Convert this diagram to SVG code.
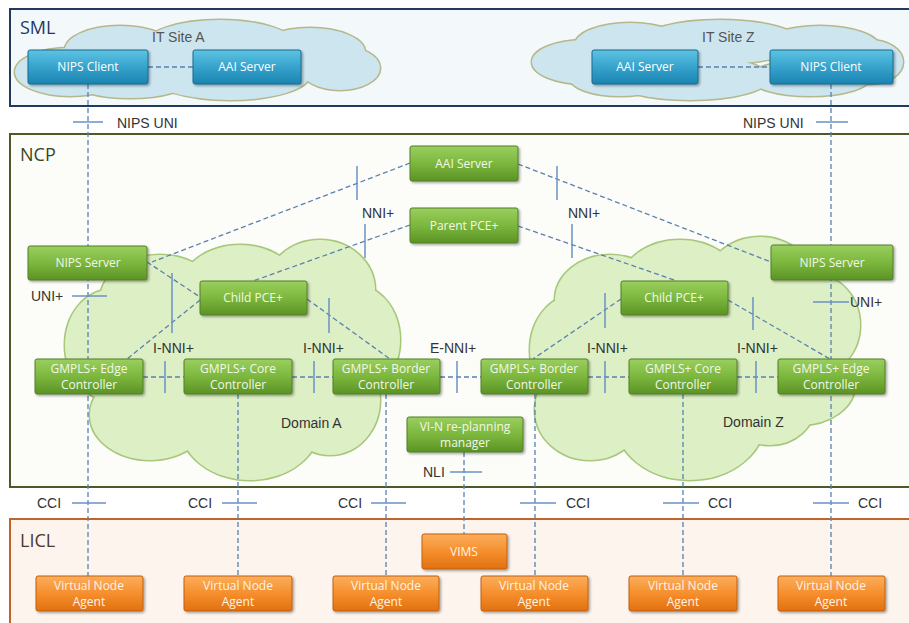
<svg xmlns="http://www.w3.org/2000/svg" xmlns:xlink="http://www.w3.org/1999/xlink" width="909" height="623" viewBox="0 0 909 623">
  <style>
    .layer-label { font-family: "Open Sans", "Liberation Sans", sans-serif; font-size: 18px; }
    .lbl { font-family: "Liberation Sans", Arial, sans-serif; font-size: 14px; fill: #333333; }
    .cloud-lbl { font-family: "Liberation Sans", Arial, sans-serif; font-size: 14px; fill: #555555; }
    .node text { font-family: "Open Sans", "Liberation Sans", sans-serif; font-size: 12px; text-anchor: middle; }
    .node.green rect { fill: url(#gGreen); stroke: #557f2a; stroke-width: 1; filter: url(#shadow); }
    .node.green text { fill: #f2f8e8; }
    .node.blue rect { fill: url(#gBlue); stroke: #1b6a8e; stroke-width: 1; filter: url(#shadow); }
    .node.blue text { fill: #ffffff; }
    .node.orange rect { fill: url(#gOrange); stroke: #c1600f; stroke-width: 1; filter: url(#shadow); }
    .node.orange text { fill: #fff3e6; }
    .dash { stroke: #5b80ad; stroke-width: 1.3; stroke-dasharray: 5 3; fill: none; }
    .tick { stroke: #6a92c6; stroke-width: 1.5; fill: none; }
  </style>
  <defs>
    <linearGradient id="gGreen" x1="0" y1="0" x2="0" y2="1">
      <stop offset="0" stop-color="#9acf5e"/>
      <stop offset="0.5" stop-color="#7cb73e"/>
      <stop offset="1" stop-color="#5b9324"/>
    </linearGradient>
    <linearGradient id="gBlue" x1="0" y1="0" x2="0" y2="1">
      <stop offset="0" stop-color="#5ec3e2"/>
      <stop offset="0.5" stop-color="#36a3cd"/>
      <stop offset="1" stop-color="#1b84b0"/>
    </linearGradient>
    <linearGradient id="gOrange" x1="0" y1="0" x2="0" y2="1">
      <stop offset="0" stop-color="#fbae5c"/>
      <stop offset="0.5" stop-color="#f58f2e"/>
      <stop offset="1" stop-color="#e2700e"/>
    </linearGradient>
    <filter id="shadow" x="-10%" y="-20%" width="125%" height="150%">
      <feDropShadow dx="1.5" dy="1.5" stdDeviation="1.2" flood-color="#000" flood-opacity="0.35"/>
    </filter>

    <!-- cloud bodies built from overlapping ellipses -->
    <g id="cloudSiteA">
      <ellipse cx="70" cy="72" rx="55" ry="24"/>
      <ellipse cx="120" cy="50" rx="55" ry="24"/>
      <ellipse cx="220" cy="45" rx="75" ry="25"/>
      <ellipse cx="310" cy="52" rx="55" ry="24"/>
      <ellipse cx="340" cy="68" rx="40" ry="22"/>
      <ellipse cx="230" cy="75" rx="80" ry="25"/>
      <ellipse cx="130" cy="80" rx="60" ry="18"/>
    </g>
    <g id="cloudSiteZ">
      <ellipse cx="585" cy="62" rx="53" ry="22"/>
      <ellipse cx="630" cy="45" rx="55" ry="22"/>
      <ellipse cx="720" cy="42" rx="80" ry="22"/>
      <ellipse cx="820" cy="48" rx="60" ry="22"/>
      <ellipse cx="870" cy="62" rx="33" ry="22"/>
      <ellipse cx="690" cy="78" rx="80" ry="22"/>
      <ellipse cx="810" cy="78" rx="60" ry="18"/>
      <ellipse cx="620" cy="78" rx="50" ry="18"/>
    </g>
    <g id="cloudDomA">
      <ellipse cx="110" cy="345" rx="45" ry="55"/>
      <ellipse cx="160" cy="300" rx="60" ry="45"/>
      <ellipse cx="240" cy="290" rx="60" ry="45"/>
      <ellipse cx="320" cy="290" rx="55" ry="50"/>
      <ellipse cx="355" cy="340" rx="45" ry="55"/>
      <ellipse cx="150" cy="415" rx="60" ry="45"/>
      <ellipse cx="250" cy="425" rx="70" ry="55"/>
      <ellipse cx="330" cy="400" rx="50" ry="55"/>
      <ellipse cx="230" cy="360" rx="130" ry="70"/>
    </g>
    <g id="cloudDomZ">
      <ellipse cx="575" cy="350" rx="45" ry="55"/>
      <ellipse cx="610" cy="300" rx="55" ry="45"/>
      <ellipse cx="680" cy="285" rx="60" ry="45"/>
      <ellipse cx="760" cy="285" rx="55" ry="48"/>
      <ellipse cx="815" cy="325" rx="45" ry="50"/>
      <ellipse cx="800" cy="385" rx="55" ry="40"/>
      <ellipse cx="590" cy="410" rx="55" ry="50"/>
      <ellipse cx="690" cy="420" rx="75" ry="60"/>
      <ellipse cx="770" cy="405" rx="45" ry="40"/>
      <ellipse cx="690" cy="360" rx="130" ry="70"/>
    </g>
  </defs>

  <rect width="909" height="623" fill="#ffffff"/>

  <!-- layers -->
  <g id="layer-sml">
    <rect x="10" y="9" width="904" height="97" fill="#f3f8fb" stroke="#223a5e" stroke-width="2"/>
    <text class="layer-label" x="20" y="34" fill="#1f3864">SML</text>
  </g>
  <g id="layer-ncp">
    <rect x="10" y="134" width="904" height="353" fill="#fcfdf9" stroke="#4c5a2a" stroke-width="2"/>
    <text class="layer-label" x="20" y="161" fill="#3b4424">NCP</text>
  </g>
  <g id="layer-licl">
    <rect x="10" y="519" width="904" height="120" fill="#fdf4ee" stroke="#c0642a" stroke-width="2"/>
    <text class="layer-label" x="20" y="547" fill="#4a3a30">LICL</text>
  </g>

  <!-- clouds -->
  <g id="cloud-it-site-a">
    <use xlink:href="#cloudSiteA" fill="#b4b88a" stroke="#b4b88a" stroke-width="3"/>
    <use xlink:href="#cloudSiteA" fill="#cde5ef" stroke="none"/>
    <text class="cloud-lbl" x="152" y="42">IT Site A</text>
  </g>
  <g id="cloud-it-site-z">
    <use xlink:href="#cloudSiteZ" fill="#b4b88a" stroke="#b4b88a" stroke-width="3"/>
    <use xlink:href="#cloudSiteZ" fill="#cde5ef" stroke="none"/>
    <text class="cloud-lbl" x="702" y="42">IT Site Z</text>
  </g>
  <g id="cloud-domain-a">
    <use xlink:href="#cloudDomA" fill="#a7c77b" stroke="#a7c77b" stroke-width="3"/>
    <use xlink:href="#cloudDomA" fill="#ddf0c5" stroke="none"/>
    <text class="lbl" x="281" y="428">Domain A</text>
  </g>
  <g id="cloud-domain-z">
    <use xlink:href="#cloudDomZ" fill="#a7c77b" stroke="#a7c77b" stroke-width="3"/>
    <use xlink:href="#cloudDomZ" fill="#ddf0c5" stroke="none"/>
    <text class="lbl" x="723" y="427">Domain Z</text>
  </g>

  <!-- connectors -->
  <g id="connectors">
    <!-- site links -->
    <line class="dash" x1="148" y1="67" x2="193" y2="67"/>
    <line class="dash" x1="698" y1="67" x2="770" y2="67"/>
    <!-- vertical control channels -->
    <line class="dash" x1="88" y1="84" x2="88" y2="576"/>
    <line class="dash" x1="831" y1="84" x2="831" y2="576"/>
    <line class="dash" x1="238" y1="394" x2="238" y2="576"/>
    <line class="dash" x1="386" y1="394" x2="386" y2="576"/>
    <line class="dash" x1="535" y1="394" x2="535" y2="576"/>
    <line class="dash" x1="683" y1="394" x2="683" y2="576"/>
    <line class="dash" x1="464" y1="452" x2="464" y2="534"/>
    <!-- NCP diagonals -->
    <line class="dash" x1="410" y1="163" x2="152" y2="262"/>
    <line class="dash" x1="410" y1="225" x2="253" y2="281"/>
    <line class="dash" x1="518" y1="164" x2="771" y2="262"/>
    <line class="dash" x1="518" y1="226" x2="677" y2="281"/>
    <line class="dash" x1="147" y1="262" x2="200" y2="297"/>
    <line class="dash" x1="200" y1="300" x2="127" y2="359"/>
    <line class="dash" x1="307" y1="299" x2="390" y2="359"/>
    <line class="dash" x1="621" y1="299" x2="533" y2="359"/>
    <line class="dash" x1="728" y1="300" x2="830" y2="359"/>
    <!-- controller chain -->
    <line class="dash" x1="143" y1="377" x2="184" y2="377"/>
    <line class="dash" x1="292" y1="377" x2="333" y2="377"/>
    <line class="dash" x1="440" y1="377" x2="481" y2="377"/>
    <line class="dash" x1="588" y1="377" x2="629" y2="377"/>
    <line class="dash" x1="737" y1="377" x2="778" y2="377"/>

    <!-- interface ticks -->
    <line class="tick" x1="73" y1="122" x2="103" y2="122"/>
    <line class="tick" x1="816" y1="122" x2="848" y2="122"/>
    <line class="tick" x1="357" y1="166" x2="357" y2="200"/>
    <line class="tick" x1="365" y1="224" x2="365" y2="258"/>
    <line class="tick" x1="557" y1="166" x2="557" y2="200"/>
    <line class="tick" x1="572" y1="224" x2="572" y2="258"/>
    <line class="tick" x1="172" y1="273" x2="172" y2="333"/>
    <line class="tick" x1="329" y1="298" x2="329" y2="333"/>
    <line class="tick" x1="605" y1="293" x2="605" y2="328"/>
    <line class="tick" x1="753" y1="297" x2="753" y2="330"/>
    <line class="tick" x1="72" y1="296" x2="107" y2="296"/>
    <line class="tick" x1="813" y1="302" x2="849" y2="302"/>
    <line class="tick" x1="165" y1="361" x2="165" y2="393"/>
    <line class="tick" x1="314" y1="361" x2="314" y2="393"/>
    <line class="tick" x1="457" y1="361" x2="457" y2="393"/>
    <line class="tick" x1="605" y1="361" x2="605" y2="393"/>
    <line class="tick" x1="756" y1="361" x2="756" y2="393"/>
    <line class="tick" x1="450" y1="472" x2="482" y2="472"/>
    <line class="tick" x1="72" y1="503" x2="106" y2="503"/>
    <line class="tick" x1="222" y1="503" x2="257" y2="503"/>
    <line class="tick" x1="371" y1="503" x2="406" y2="503"/>
    <line class="tick" x1="520" y1="503" x2="556" y2="503"/>
    <line class="tick" x1="663" y1="503" x2="699" y2="503"/>
    <line class="tick" x1="813" y1="503" x2="849" y2="503"/>

    <!-- interface labels -->
    <text class="lbl" x="117" y="128">NIPS UNI</text>
    <text class="lbl" x="743" y="128">NIPS UNI</text>
    <text class="lbl" x="362" y="218">NNI+</text>
    <text class="lbl" x="568" y="218">NNI+</text>
    <text class="lbl" x="31" y="301">UNI+</text>
    <text class="lbl" x="850" y="307">UNI+</text>
    <text class="lbl" x="153" y="353">I-NNI+</text>
    <text class="lbl" x="303" y="353">I-NNI+</text>
    <text class="lbl" x="587" y="353">I-NNI+</text>
    <text class="lbl" x="737" y="353">I-NNI+</text>
    <text class="lbl" x="430" y="353">E-NNI+</text>
    <text class="lbl" x="423" y="477">NLI</text>
    <text class="lbl" x="37" y="508">CCI</text>
    <text class="lbl" x="188" y="508">CCI</text>
    <text class="lbl" x="338" y="508">CCI</text>
    <text class="lbl" x="566" y="508">CCI</text>
    <text class="lbl" x="708" y="508">CCI</text>
    <text class="lbl" x="858" y="508">CCI</text>
  </g>

  <!-- SML nodes -->
  <g id="nips-client-a" class="node blue"><rect x="28" y="50" width="120" height="34" rx="2"/><text x="88" y="71">NIPS Client</text></g>
  <g id="aai-server-a" class="node blue"><rect x="193" y="50" width="108" height="34" rx="2"/><text x="247" y="71">AAI Server</text></g>
  <g id="aai-server-z" class="node blue"><rect x="592" y="50" width="106" height="34" rx="2"/><text x="645" y="71">AAI Server</text></g>
  <g id="nips-client-z" class="node blue"><rect x="770" y="50" width="123" height="34" rx="2"/><text x="831" y="71">NIPS Client</text></g>

  <!-- NCP nodes -->
  <g id="aai-server" class="node green"><rect x="410" y="146" width="108" height="35" rx="2"/><text x="464" y="168">AAI Server</text></g>
  <g id="parent-pce" class="node green"><rect x="410" y="208" width="108" height="35" rx="2"/><text x="464" y="230">Parent PCE+</text></g>
  <g id="nips-server-a" class="node green"><rect x="28" y="246" width="119" height="34" rx="2"/><text x="88" y="267">NIPS Server</text></g>
  <g id="child-pce-a" class="node green"><rect x="200" y="281" width="107" height="34" rx="2"/><text x="253" y="302">Child PCE+</text></g>
  <g id="nips-server-z" class="node green"><rect x="771" y="245" width="122" height="35" rx="2"/><text x="832" y="267">NIPS Server</text></g>
  <g id="child-pce-z" class="node green"><rect x="621" y="281" width="107" height="34" rx="2"/><text x="674" y="302">Child PCE+</text></g>
  <g id="edge-ctrl-a" class="node green"><rect x="35" y="359" width="108" height="35" rx="2"/><text x="89" y="373">GMPLS+ Edge</text><text x="89" y="389">Controller</text></g>
  <g id="core-ctrl-a" class="node green"><rect x="184" y="359" width="108" height="35" rx="2"/><text x="238" y="373">GMPLS+ Core</text><text x="238" y="389">Controller</text></g>
  <g id="border-ctrl-a" class="node green"><rect x="333" y="359" width="107" height="35" rx="2"/><text x="386" y="373">GMPLS+ Border</text><text x="386" y="389">Controller</text></g>
  <g id="border-ctrl-z" class="node green"><rect x="481" y="359" width="107" height="35" rx="2"/><text x="534" y="373">GMPLS+ Border</text><text x="534" y="389">Controller</text></g>
  <g id="core-ctrl-z" class="node green"><rect x="629" y="359" width="108" height="35" rx="2"/><text x="683" y="373">GMPLS+ Core</text><text x="683" y="389">Controller</text></g>
  <g id="edge-ctrl-z" class="node green"><rect x="778" y="359" width="107" height="35" rx="2"/><text x="831" y="373">GMPLS+ Edge</text><text x="831" y="389">Controller</text></g>
  <g id="vin-manager" class="node green"><rect x="407" y="417" width="116" height="35" rx="2"/><text x="465" y="431">VI-N re-planning</text><text x="465" y="447">manager</text></g>

  <!-- LICL nodes -->
  <g id="vims" class="node orange"><rect x="422" y="534" width="85" height="35" rx="2"/><text x="464" y="556">VIMS</text></g>
  <g id="vna-1" class="node orange"><rect x="36" y="576" width="107" height="35" rx="2"/><text x="89" y="590">Virtual Node</text><text x="89" y="606">Agent</text></g>
  <g id="vna-2" class="node orange"><rect x="184" y="576" width="108" height="35" rx="2"/><text x="238" y="590">Virtual Node</text><text x="238" y="606">Agent</text></g>
  <g id="vna-3" class="node orange"><rect x="333" y="576" width="106" height="35" rx="2"/><text x="386" y="590">Virtual Node</text><text x="386" y="606">Agent</text></g>
  <g id="vna-4" class="node orange"><rect x="481" y="576" width="107" height="35" rx="2"/><text x="534" y="590">Virtual Node</text><text x="534" y="606">Agent</text></g>
  <g id="vna-5" class="node orange"><rect x="629" y="576" width="108" height="35" rx="2"/><text x="683" y="590">Virtual Node</text><text x="683" y="606">Agent</text></g>
  <g id="vna-6" class="node orange"><rect x="778" y="576" width="107" height="35" rx="2"/><text x="831" y="590">Virtual Node</text><text x="831" y="606">Agent</text></g>
</svg>
